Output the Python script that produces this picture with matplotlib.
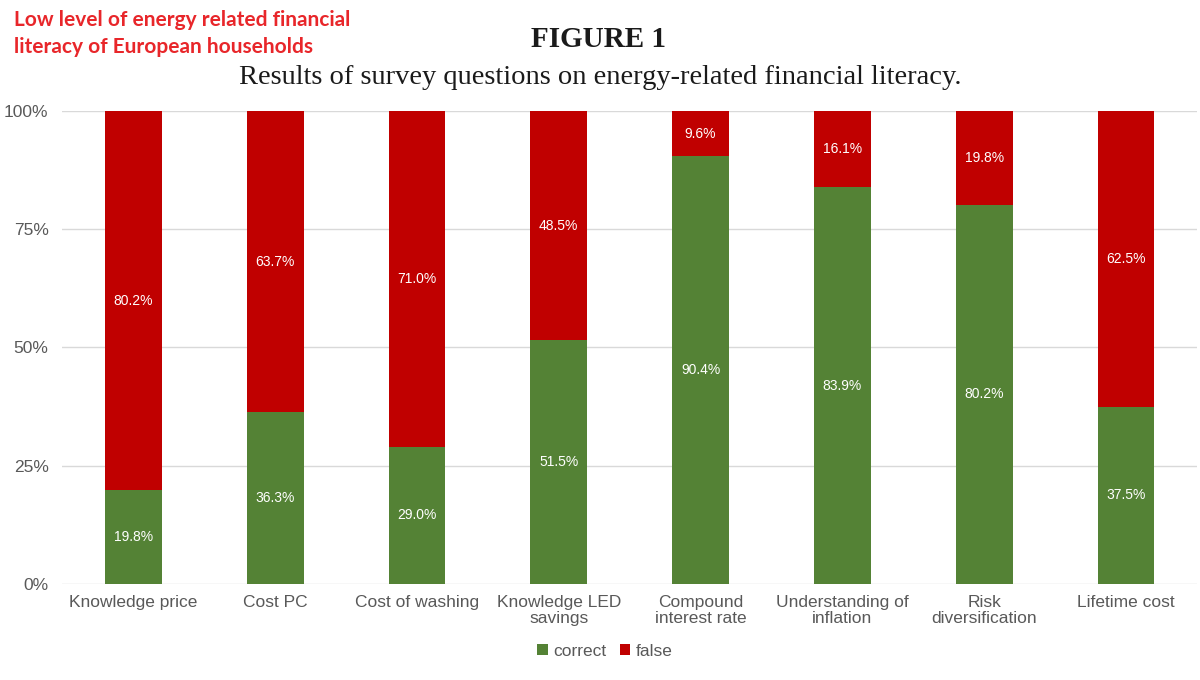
import matplotlib
matplotlib.use("Agg")
import matplotlib.pyplot as plt
import numpy as np
from matplotlib.ticker import FuncFormatter

categories = ["Knowledge price", "Cost PC", "Cost of washing", "Knowledge LED\nsavings",
              "Compound\ninterest rate", "Understanding of\ninflation", "Risk\ndiversification",
              "Lifetime cost"]
correct = [19.8, 36.3, 29.0, 51.5, 90.4, 83.9, 80.2, 37.5]
false = [80.2, 63.7, 71.0, 48.5, 9.6, 16.1, 19.8, 62.5]
yticks = [0, 25, 50, 75, 100]

green = "#548235"
red = "#C00000"
plt.rcParams["font.family"] = ["Liberation Sans", "DejaVu Sans"]

fig = plt.figure(figsize=(12, 6.8), dpi=100)
ax = fig.add_axes([0.052, 0.141, 0.9455, 0.696])

x = np.arange(len(categories))
w = 0.4
b1 = ax.bar(x, correct, w, color=green, label="correct", zorder=3)
b2 = ax.bar(x, false, w, bottom=correct, color=red, label="false", zorder=3)

for xi, c, f in zip(x, correct, false):
    ax.text(xi, c / 2, f"{c:.1f}%", ha="center", va="center", color="white", fontsize=10, zorder=4)
    ax.text(xi, c + f / 2, f"{f:.1f}%", ha="center", va="center", color="white", fontsize=10, zorder=4)

ax.set_xlim(-0.5, len(categories) - 0.5)
ax.set_ylim(0, 100)
ax.set_yticks(yticks)
ax.yaxis.set_major_formatter(FuncFormatter(lambda v, p: f"{v:.0f}%"))
ax.set_xticks(x)
ax.set_xticklabels(categories, fontsize=12.5, color="#595959", linespacing=1.1)
ax.tick_params(axis="y", labelsize=12.5, labelcolor="#595959", length=0, pad=10)
ax.tick_params(axis="x", length=0, pad=8)
ax.grid(axis="y", color="#d9d9d9", linewidth=1, zorder=0)
for s in ax.spines.values():
    s.set_visible(False)

leg = fig.legend(handles=[b1, b2], labels=["correct", "false"], loc="center",
                 bbox_to_anchor=(0.504, 0.042), ncol=2, frameon=False, fontsize=12.5,
                 handlelength=0.6, handleheight=0.6, handletextpad=0.3, columnspacing=0.8)
for t in leg.get_texts():
    t.set_color("#595959")

fig.text(0.499, 0.942, "FIGURE 1", ha="center", va="center", fontsize=21, fontweight="bold",
         family="Liberation Serif", color="#1a1a1a")
fig.text(0.5, 0.886, "Results of survey questions on energy-related financial literacy.",
         ha="center", va="center", fontsize=20.5, family="Liberation Serif", color="#1a1a1a")
fig.text(0.012, 0.985, "Low level of energy related financial\nliteracy of European households",
         ha="left", va="top", fontsize=15, fontweight="bold", family="Lato", color="#e8262a",
         linespacing=1.45)

fig.savefig("out.png", dpi=100)
